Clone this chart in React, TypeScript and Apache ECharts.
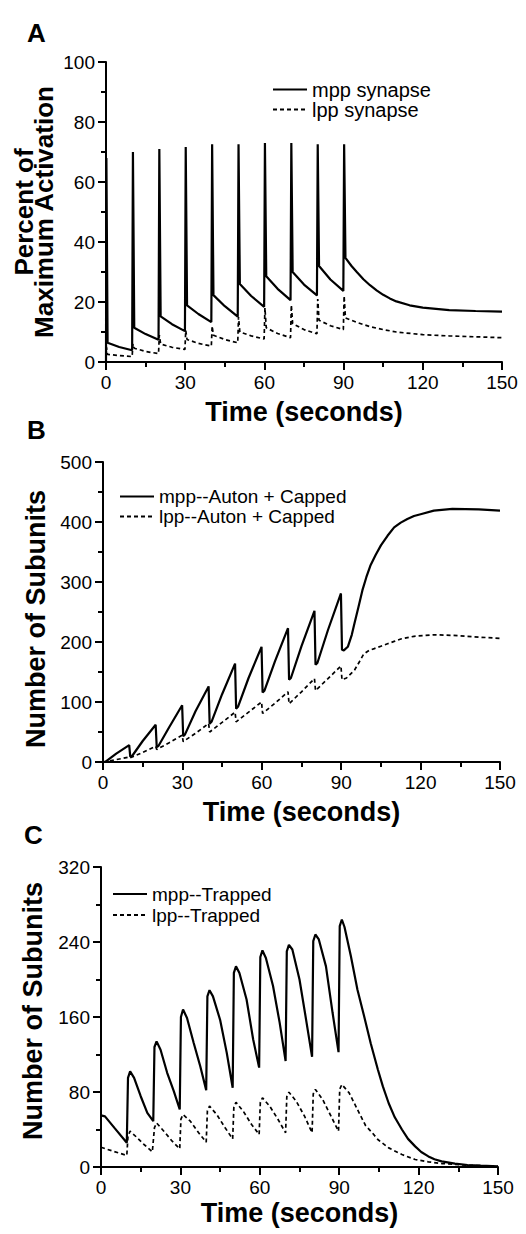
import React, { useEffect, useRef } from "react";
import * as echarts from "echarts";

// ---------- Data (time in seconds, value) ----------
const xTicks = [0, 30, 60, 90, 120, 150];

const mppA: number[][] = [
  [0, 0], [0.15, 68], [0.6, 6.4], [5, 5], [9.9, 3.9],
  [10.2, 70], [10.7, 11.4], [15, 9.3], [19.9, 7.4],
  [20.2, 71], [20.7, 15.2], [25, 12.6], [29.9, 10.3],
  [30.2, 71.7], [30.7, 18.9], [35, 16], [39.9, 13.3],
  [40.2, 72.6], [40.7, 22.3], [45, 18.6], [49.9, 15.1],
  [50.2, 72.6], [50.7, 26], [55, 22], [59.9, 18.4],
  [60.2, 73], [60.7, 28.6], [65, 24.4], [69.9, 20.6],
  [70.2, 73], [70.7, 30], [75, 25.8], [79.9, 22.2],
  [80.2, 72.6], [80.7, 32], [85, 27.5], [89.9, 23.7],
  [90.2, 72.6], [90.7, 34.7], [93, 32], [95, 30], [97.5, 27.6], [100, 25.6], [102.5, 23.9],
  [105, 22.4], [107.5, 21.2], [110, 20.2], [115, 18.9], [120, 18.1], [130, 17.3], [140, 17],
  [150, 16.8],
];
const lppA: number[][] = [
  [0, 0], [0.15, 5], [0.6, 2.5], [9.9, 1.8],
  [10.2, 6], [10.7, 4.6], [15, 3.5], [19.9, 2.8],
  [20.2, 9], [20.7, 6], [25, 4.9], [29.9, 4.2],
  [30.2, 10.5], [30.7, 7.5], [35, 6.2], [39.9, 5.3],
  [40.2, 12], [40.7, 8.9], [45, 7.5], [49.9, 6.4],
  [50.2, 15], [50.7, 10], [55, 8.7], [59.9, 7.7],
  [60.2, 18], [60.7, 11.4], [65, 9.5], [69.9, 8.1],
  [70.2, 19], [70.7, 12.8], [75, 10.8], [79.9, 9.4],
  [80.2, 21], [80.7, 13.9], [85, 12.1], [89.9, 10.8],
  [90.2, 22], [90.7, 14.7], [95, 13.2], [100, 11.8], [105, 10.8], [110, 10],
  [120, 9.1], [130, 8.7], [140, 8.4], [150, 8.1],
];

const mppB: number[][] = [
  [0, 0], [1, 0.5], [5, 14], [9.9, 28], [10.3, 9], [11, 10], [15, 35], [19.9, 62],
  [20.3, 25], [21, 27], [25, 58], [29.9, 94.5], [30.3, 43], [31, 46], [35, 85], [39.9, 126],
  [40.3, 64], [41, 67], [45, 113], [49.9, 164], [50.3, 89], [51, 92], [55, 140], [59.9, 192],
  [60.3, 116], [61, 119], [65, 168], [69.9, 223], [70.3, 137], [71, 140], [75, 193], [79.9, 252],
  [80.3, 162], [81, 165], [85, 220], [89.9, 281], [90.3, 187], [91, 186], [92.5, 192],
  [94, 212], [95, 231], [96.5, 258], [98, 286], [99.5, 308], [101, 327], [103, 345],
  [105, 361], [107.5, 377], [110, 391], [112.5, 399], [115, 405], [117.5, 410], [120, 413],
  [125, 419], [132, 422], [142, 421], [150, 419],
];
const lppB: number[][] = [
  [0, 0], [1, 0.5], [5, 4], [9.9, 8.3], [10.3, 7], [15, 16], [19.9, 26], [20.3, 21],
  [25, 32], [29.9, 44.5], [30.3, 34], [35, 48], [39.9, 64], [40.3, 50], [45, 66], [49.9, 83],
  [50.3, 67], [55, 83], [59.9, 100], [60.3, 81], [65, 98], [69.9, 117], [70.3, 97], [75, 117],
  [79.9, 139], [80.3, 119], [85, 139], [89.9, 160], [90.3, 137], [92, 140], [95, 153],
  [97, 168], [98.5, 180], [100.5, 186], [102.5, 189], [105, 193], [107.5, 197], [110, 201],
  [112.5, 205], [117.5, 209.5], [125, 212], [132.5, 211], [142.5, 208], [150, 206],
];

const mppC: number[][] = [
  [0, 55], [1.5, 54], [5, 42], [9.75, 25.8], [10.2, 95], [11, 102], [12.5, 95], [15, 75.5],
  [17.5, 57.8], [19.75, 48.9], [20.2, 128], [21, 134], [22.5, 125], [25, 100.5], [27.5, 80.9],
  [29.75, 61.3], [30.2, 160], [31, 168], [32.5, 159], [35, 132.5], [37.5, 107.5], [39.75, 82],
  [40.2, 182], [41, 188.6], [42.3, 182], [45, 157], [47.5, 122], [49.75, 84.5],
  [50.2, 207], [51, 214], [52.3, 207], [55, 178.7], [57.5, 136], [59.75, 106],
  [60.2, 224], [61, 231], [62.3, 223], [65, 193], [67.5, 154], [69.75, 113],
  [70.2, 230], [71, 237], [72.3, 232], [75, 200], [77.5, 157], [79.75, 117.5],
  [80.2, 241], [81, 248], [82.3, 242.7], [85, 214], [87.5, 164.5], [89.75, 122.5],
  [90.2, 257], [91, 264], [92, 256], [94.4, 225], [96.9, 189], [99.4, 161], [101.9, 132],
  [104.6, 104], [106.5, 86], [108.7, 68], [111, 53], [113.7, 40], [116, 30], [118.7, 22],
  [121, 16], [123.7, 11.3], [126, 8.2], [128.7, 6], [133.7, 3.6], [138.5, 2.1],
  [143.5, 1.4], [150, 0.8],
];
const lppC: number[][] = [
  [0, 21], [5, 16.5], [9.75, 12.3], [10.2, 33], [11, 38.2], [13.75, 31], [16.25, 24], [19.4, 16.2],
  [20.2, 42], [21, 47], [23.75, 38.2], [26.9, 27.5], [29.75, 19.4],
  [30.2, 51], [31, 56], [33.75, 48.9], [36.9, 36.5], [39.75, 26.5],
  [40.2, 60], [41, 64.9], [43.75, 56], [46.9, 41.8], [49.75, 30],
  [50.2, 64], [51, 69], [53.75, 59.5], [56.9, 45.3], [59.75, 34.7],
  [60.2, 69], [61, 73.8], [63.75, 64.9], [66.9, 50.7], [69.75, 36.5],
  [70.2, 75], [71, 79.8], [73.75, 70.2], [76.9, 54.2], [79.75, 36.5],
  [80.2, 78], [81, 82.7], [83.75, 72], [86.9, 54.2], [89.75, 38.2],
  [90.2, 83], [91, 88], [93.75, 79.1], [96.9, 61.3], [100, 44], [102.5, 36.5],
  [104.6, 29.3], [108.7, 20.4], [113.7, 13.3], [118.7, 8], [123.7, 5.5], [128.7, 3.7],
  [138.5, 1.9], [150, 0.7],
];

const panelLetters = ["A", "B", "C"];
const seriesNames = [
  ["mpp synapse", "lpp synapse"],
  ["mpp--Auton + Capped", "lpp--Auton + Capped"],
  ["mpp--Trapped", "lpp--Trapped"],
];
const yRanges = [
  { max: 100, interval: 20 },
  { max: 500, interval: 100 },
  { max: 320, interval: 80 },
];
const xTitle = "Time (seconds)";
const yTitles = ["Percent of\nMaximum Activation", "Number of Subunits", "Number of Subunits"];

const FONT = "'Liberation Sans', Arial, Helvetica, sans-serif";

export default function App() {
  const ref = useRef<HTMLDivElement>(null);
  useEffect(() => {
    if (!ref.current) return;
    const chart = echarts.init(ref.current, null, { renderer: "svg" });

    const grids = [
      { left: 106, right: 24, top: 62, height: 300 },
      { left: 103, right: 26, top: 462, height: 300 },
      { left: 101, right: 28, top: 867, height: 300 },
    ];
    const xNameGaps = [36, 36, 32];

    const axisCommon = {
      axisLine: { show: true, lineStyle: { color: "#000", width: 2 } },
      axisTick: { show: true, length: 8, lineStyle: { color: "#000", width: 2 } },
      minorTick: { show: true, splitNumber: 2, length: 5, lineStyle: { color: "#000", width: 2 } },
      splitLine: { show: false },
      minorSplitLine: { show: false },
      axisLabel: { color: "#000", fontSize: 19, fontFamily: FONT, margin: 11 },
    };

    const xAxis = grids.map((_, i) => ({
      type: "value",
      gridIndex: i,
      min: xTicks[0],
      max: xTicks[xTicks.length - 1],
      interval: 30,
      name: xTitle,
      nameLocation: "middle",
      nameGap: xNameGaps[i],
      nameTextStyle: { color: "#000", fontSize: 27, fontWeight: "bold", fontFamily: FONT, lineHeight: 27 },
      ...axisCommon,
    }));
    const yAxis = grids.map((_, i) => ({
      type: "value",
      gridIndex: i,
      min: 0,
      max: yRanges[i].max,
      interval: yRanges[i].interval,
      ...axisCommon,
    }));

    const data = [
      [mppA, lppA],
      [mppB, lppB],
      [mppC, lppC],
    ];
    const series: any[] = [];
    data.forEach((pair, i) => {
      series.push({
        type: "line",
        name: seriesNames[i][0],
        xAxisIndex: i,
        yAxisIndex: i,
        data: pair[0],
        symbol: "none",
        showSymbol: false,
        lineStyle: { color: "#000", width: 2.2 },
        itemStyle: { color: "#000" },
      });
      series.push({
        type: "line",
        name: seriesNames[i][1],
        xAxisIndex: i,
        yAxisIndex: i,
        data: pair[1],
        symbol: "none",
        showSymbol: false,
        lineStyle: { color: "#000", width: 1.7, type: [4, 3] },
        itemStyle: { color: "#000" },
      });
    });

    const legendPos = [
      { left: 272, top: 79.5, fs: 20, lh: 19, iw: 34 },
      { left: 119, top: 486.5, fs: 19, lh: 20, iw: 34 },
      { left: 112, top: 883.5, fs: 19, lh: 21, iw: 34 },
    ];
    const legend = legendPos.map((p, i) => ({
      data: seriesNames[i],
      orient: "vertical",
      left: p.left,
      top: p.top,
      padding: 0,
      itemGap: 0,
      itemWidth: p.iw,
      itemHeight: 14,
      itemStyle: { color: "rgba(0,0,0,0)", borderWidth: 0, opacity: 0 },
      textStyle: { color: "#000", fontSize: p.fs, fontFamily: FONT, lineHeight: p.lh },
    }));

    const titlePos = [
      { left: 27, top: 20 },
      { left: 27, top: 417 },
      { left: 24, top: 822 },
    ];
    const title = titlePos.map((p, i) => ({
      text: panelLetters[i],
      left: p.left,
      top: p.top,
      padding: 0,
      textStyle: { color: "#000", fontSize: 26, fontWeight: "bold", fontFamily: FONT },
    }));

    const yTitlePos = [
      { x: 34, y: 212, fs: 26, lh: 20 },
      { x: 36, y: 619, fs: 27, lh: 27 },
      { x: 33, y: 1011, fs: 27, lh: 27 },
    ];
    const graphic = yTitlePos.map((p, i) => ({
      type: "text",
      x: p.x,
      y: p.y,
      rotation: Math.PI / 2,
      style: {
        text: yTitles[i],
        x: 0,
        y: 0,
        align: "center",
        verticalAlign: "middle",
        fill: "#000",
        fontSize: p.fs,
        fontWeight: "bold",
        fontFamily: FONT,
        lineHeight: p.lh,
      },
    }));

    chart.setOption({
      animation: false,
      backgroundColor: "#fff",
      title,
      legend,
      grid: grids,
      xAxis,
      yAxis,
      series,
      graphic,
    } as any);

    return () => chart.dispose();
  }, []);

  return (
    <div
      ref={ref}
      style={{ position: "absolute", left: 0, top: 0, width: 526, height: 1234, background: "#fff" }}
    />
  );
}
